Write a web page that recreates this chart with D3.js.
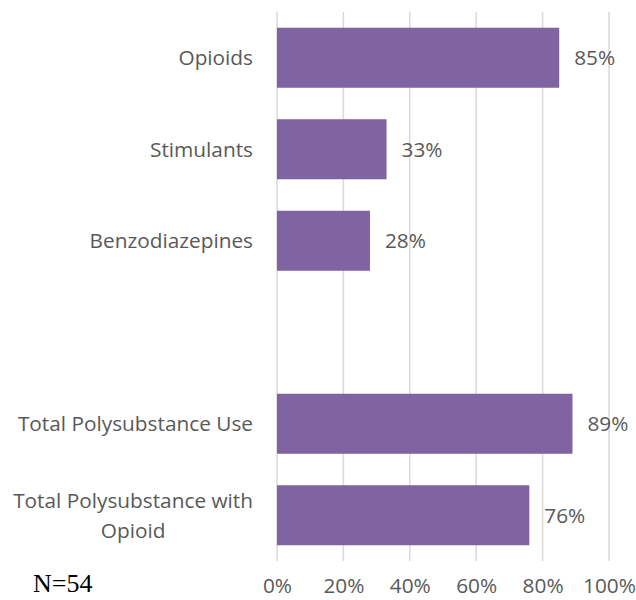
<!DOCTYPE html>
<html>
<head>
<meta charset="utf-8">
<script src="https://cdn.jsdelivr.net/npm/d3@7"></script>
<style>
  html, body { margin: 0; padding: 0; background: #fff; }
  svg { display: block; }
</style>
</head>
<body>
<svg id="chart" width="636" height="600"></svg>
<script>
// Substance categories (the blank entry leaves a spacer row between groups)
const categories = ["Opioids", "Stimulants", "Benzodiazepines", "", "Total Polysubstance Use", "Total Polysubstance with Opioid"];
// Share of respondents, percent
const values = [85, 33, 28, null, 89, 76];
// Axis ticks, percent
const tickValues = [0, 20, 40, 60, 80, 100];
const sampleNote = "N=54";

const W = 636, H = 600;
const plot = { left: 277, right: 609, top: 12, bottom: 561 };
const font = "'Open Sans', sans-serif";
const fontSize = 20.8;
const textColor = "#595959";
const barColor = "#8064A2";
const gridColor = "#d9d9d9";

const svg = d3.select("#chart");

const x = d3.scaleLinear().domain([0, 100]).range([plot.left, plot.right]);
const y = d3.scaleBand().domain(d3.range(categories.length)).range([plot.top, plot.bottom]).paddingInner(0.344).paddingOuter(0.172);

// Vertical gridlines
svg.append("g").selectAll("line").data(tickValues).join("line")
  .attr("x1", d => x(d)).attr("x2", d => x(d))
  .attr("y1", plot.top).attr("y2", plot.bottom)
  .attr("stroke", gridColor).attr("stroke-width", 1.5);

// Bottom axis tick labels
const xAxis = d3.axisBottom(x).tickValues(tickValues).tickFormat(d => d + "%").tickSize(0).tickPadding(0);
const gx = svg.append("g").attr("transform", `translate(0,${plot.bottom})`).call(xAxis);
gx.select(".domain").remove();
gx.selectAll("text")
  .attr("dy", null).attr("y", 32)
  .attr("font-family", font).attr("font-size", fontSize).attr("fill", textColor);

const rows = categories.map((c, i) => ({ c, v: values[i], i })).filter(d => d.v != null);

// Bars
svg.append("g").selectAll("rect").data(rows).join("rect")
  .attr("x", x(0))
  .attr("y", d => y(d.i))
  .attr("width", d => x(d.v) - x(0))
  .attr("height", y.bandwidth())
  .attr("fill", barColor);

// Value labels
svg.append("g").selectAll("text").data(rows).join("text")
  .attr("x", d => x(d.v) + 15)
  .attr("y", d => y(d.i) + y.bandwidth() / 2)
  .attr("dy", "0.35em")
  .attr("font-family", font).attr("font-size", fontSize).attr("fill", textColor)
  .text(d => d.v + "%");

// Category labels: right-aligned block, lines centred on each other when wrapped
const labelRight = 253;
const maxLabelWidth = 250;
const lineHeight = 30;
const catG = svg.append("g");
rows.forEach(d => {
  const t = catG.append("text")
    .attr("font-family", font).attr("font-size", fontSize).attr("fill", textColor)
    .attr("text-anchor", "middle");
  // greedy word wrap
  const words = d.c.split(" ");
  const lines = [];
  let cur = [];
  const probe = t.append("tspan");
  words.forEach(w => {
    const trial = cur.concat([w]).join(" ");
    probe.text(trial);
    if (probe.node().getComputedTextLength() > maxLabelWidth && cur.length) {
      lines.push(cur.join(" "));
      cur = [w];
    } else {
      cur.push(w);
    }
  });
  lines.push(cur.join(" "));
  probe.remove();
  let widest = 0;
  const spans = lines.map(l => {
    const s = t.append("tspan").text(l);
    widest = Math.max(widest, s.node().getComputedTextLength());
    return s;
  });
  const cx = labelRight - widest / 2;
  const cy = y(d.i) + y.bandwidth() / 2;
  spans.forEach((s, k) => {
    s.attr("x", cx)
     .attr("y", cy + (k - (lines.length - 1) / 2) * lineHeight)
     .attr("dy", "0.35em");
  });
});

// Sample size note
svg.append("text")
  .attr("x", 33).attr("y", 592)
  .attr("font-family", "'Liberation Serif', 'Times New Roman', serif")
  .attr("font-size", 26).attr("fill", "#000")
  .text(sampleNote);
</script>
</body>
</html>
